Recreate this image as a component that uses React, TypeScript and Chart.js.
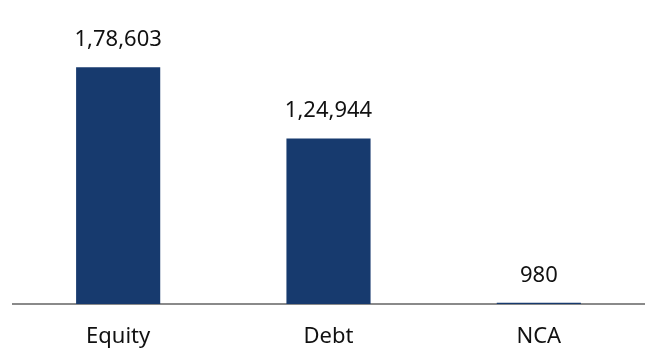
import React, { useEffect, useRef } from "react";
import { Chart, registerables } from "chart.js";

Chart.register(...registerables);

const categories = ["Equity", "Debt", "NCA"];
const values = [178603, 124944, 980];
const valueLabels = ["1,78,603", "1,24,944", "980"];

const FONT = "'Noto Sans', sans-serif";

const valueLabelPlugin = {
  id: "valueLabels",
  afterDatasetsDraw(chart: any) {
    const ctx = chart.ctx;
    const meta = chart.getDatasetMeta(0);
    ctx.save();
    ctx.font = `22px ${FONT}`;
    ctx.fillStyle = "#111111";
    ctx.textAlign = "center";
    ctx.textBaseline = "alphabetic";
    meta.data.forEach((bar: any, i: number) => {
      ctx.fillText(valueLabels[i], bar.x, bar.y - 21);
    });
    ctx.restore();
  },
};

export default function App() {
  const ref = useRef<HTMLCanvasElement>(null);
  useEffect(() => {
    const chart = new Chart(ref.current!, {
      type: "bar",
      data: {
        labels: categories,
        datasets: [
          {
            data: values,
            backgroundColor: "#173a6e",
            barPercentage: 0.4,
            categoryPercentage: 1,
          },
        ],
      },
      options: {
        animation: false,
        responsive: true,
        maintainAspectRatio: false,
        layout: { padding: { left: 13, right: 4, top: 39, bottom: -6.4 } },
        plugins: { legend: { display: false }, tooltip: { enabled: false } },
        scales: {
          x: {
            grid: { display: false, drawTicks: false },
            border: { display: true, color: "#8a8a8a", width: 2 },
            ticks: { color: "#111111", font: { family: FONT, size: 22 }, padding: 20 },
          },
          y: { display: false, min: 0, max: 200000 },
        },
      },
      plugins: [valueLabelPlugin],
    });
    return () => chart.destroy();
  }, []);
  return (
    <div style={{ position: "fixed", left: 0, top: 0, width: 648, height: 364, background: "#fff" }}>
      <canvas ref={ref} />
    </div>
  );
}
